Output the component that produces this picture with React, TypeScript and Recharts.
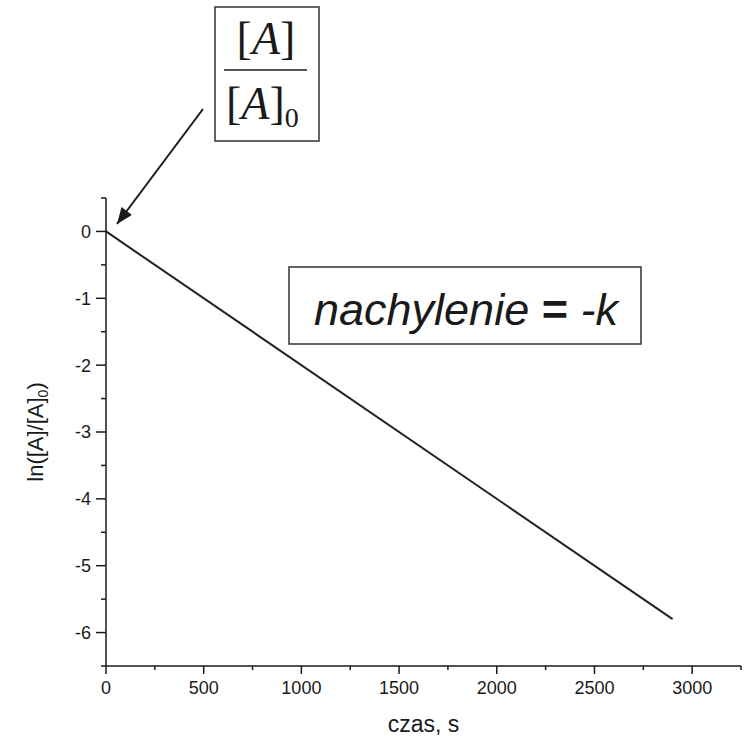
import React from "react";
import { Line, LineChart, XAxis, YAxis } from "recharts";

const INK = "#1a1a1a";
const SANS = "'Liberation Sans', Arial, sans-serif";
const SERIF = "'Liberation Serif', 'Times New Roman', serif";

// time (s) and ln([A]/[A]0) at the two ends of the straight line
const czas = [0, 2900];
const lnRatio = [0, -5.8];

const xTicks = [0, 250, 500, 750, 1000, 1250, 1500, 1750, 2000, 2250, 2500, 2750, 3000, 3250];
const yTicks = [-6.5, -6, -5.5, -5, -4.5, -4, -3.5, -3, -2.5, -2, -1.5, -1, -0.5, 0, 0.5];

const data = czas.map((t, i) => ({ t, v: lnRatio[i] }));

function XTick(props: any) {
  const { x, y, payload } = props;
  const major = payload.value % 500 === 0;
  return (
    <g>
      <line x1={x} y1={y} x2={x} y2={y + (major ? 8 : 4)} stroke={INK} strokeWidth={1.5} />
      {major && (
        <text x={x} y={y + 15} dy="0.71em" textAnchor="middle" fontSize={18} fontFamily={SANS} fill={INK}>
          {payload.value}
        </text>
      )}
    </g>
  );
}

function YTick(props: any) {
  const { x, y, payload } = props;
  const major = Number.isInteger(payload.value);
  return (
    <g>
      <line x1={x - (major ? 10 : 5)} y1={y} x2={x} y2={y} stroke={INK} strokeWidth={1.5} />
      {major && (
        <text x={x - 15} y={y} dy="0.355em" textAnchor="end" fontSize={18} fontFamily={SANS} fill={INK}>
          {payload.value}
        </text>
      )}
    </g>
  );
}

function YLabel(props: any) {
  const { viewBox } = props;
  const cx = viewBox.x + 9;
  const cy = 432;
  return (
    <text
      x={cx}
      y={cy}
      transform={`rotate(-90, ${cx}, ${cy})`}
      textAnchor="middle"
      dominantBaseline="central"
      fontSize={22}
      fontFamily={SANS}
      fill={INK}
    >
      ln([A]/[A]
      <tspan baselineShift="sub" fontSize={14}>0</tspan>)
    </text>
  );
}

function XLabel(props: any) {
  const { viewBox } = props;
  return (
    <text
      x={viewBox.x + viewBox.width / 2}
      y={viewBox.y + 66}
      textAnchor="middle"
      fontSize={23}
      fontFamily={SANS}
      fill={INK}
    >
      czas, s
    </text>
  );
}

function Annotations() {
  return (
    <svg
      width={746}
      height={736}
      style={{ position: "absolute", left: 0, top: 0, pointerEvents: "none" }}
    >
      <defs>
        <marker
          id="head"
          viewBox="0 0 10 8"
          refX={10}
          refY={4}
          markerUnits="userSpaceOnUse"
          markerWidth={17}
          markerHeight={13}
          orient="auto"
        >
          <path d="M0,0 L10,4 L0,8 z" fill={INK} />
        </marker>
      </defs>
      <rect x={215} y={7} width={104} height={134} fill="#fff" stroke="#333" strokeWidth={1.5} />
      <text x={266} y={54} textAnchor="middle" fontSize={46} fontFamily={SERIF} fill={INK}>
        [<tspan fontStyle="italic">A</tspan>]
      </text>
      <line x1={224} y1={70} x2={307} y2={70} stroke={INK} strokeWidth={1.5} />
      <text x={226} y={119} fontSize={46} fontFamily={SERIF} fill={INK}>
        [<tspan fontStyle="italic">A</tspan>]
        <tspan fontSize={28} dy={8}>0</tspan>
      </text>
      <line x1={203} y1={109} x2={117} y2={224} stroke={INK} strokeWidth={2} markerEnd="url(#head)" />
      <rect x={289} y={267} width={352} height={77} fill="#fff" stroke="#333" strokeWidth={1.5} />
      <text x={466} y={325} textAnchor="middle" fontSize={45} fontFamily={SANS} fill={INK}>
        <tspan fontStyle="italic">nachylenie</tspan>
        <tspan fontWeight="bold"> = </tspan>
        <tspan fontStyle="italic">-k</tspan>
      </text>
    </svg>
  );
}

export default function App() {
  return (
    <div style={{ position: "relative", width: 746, height: 736, background: "#fff" }}>
      <style>{"body{margin:0}"}</style>
      <LineChart
        width={746}
        height={736}
        data={data}
        margin={{ top: 198, right: 5, bottom: 20, left: 26 }}
      >
        <XAxis
          type="number"
          dataKey="t"
          domain={[0, 3250]}
          ticks={xTicks}
          interval={0}
          height={50}
          tickSize={0}
          tickMargin={0}
          tickLine={false}
          tick={<XTick />}
          axisLine={{ stroke: INK, strokeWidth: 1.5 }}
          label={{ content: XLabel }}
        />
        <YAxis
          type="number"
          domain={[-6.5, 0.5]}
          ticks={yTicks}
          interval={0}
          width={80}
          tickSize={0}
          tickMargin={0}
          tickLine={false}
          tick={<YTick />}
          axisLine={{ stroke: INK, strokeWidth: 1.5 }}
          label={{ content: YLabel }}
        />
        <Line
          type="linear"
          dataKey="v"
          stroke="#222"
          strokeWidth={2}
          dot={false}
          isAnimationActive={false}
        />
      </LineChart>
      <Annotations />
    </div>
  );
}
